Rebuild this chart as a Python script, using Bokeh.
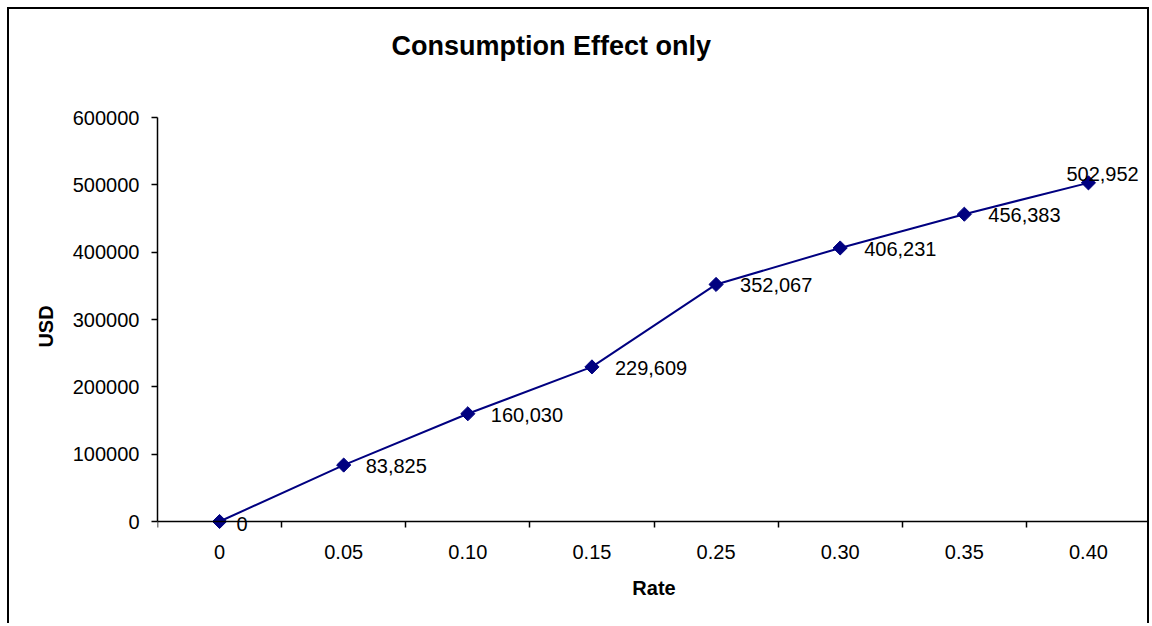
import math
from bokeh.plotting import figure
from bokeh.models import Range1d, FixedTicker, NumeralTickFormatter, Label, Title, LinearAxis
from bokeh.embed import file_html
from bokeh.resources import INLINE

# ---- data ----
rates = ["0", "0.05", "0.10", "0.15", "0.25", "0.30", "0.35", "0.40"]
usd = [0, 83825, 160030, 229609, 352067, 406231, 456383, 502952]
point_labels = ["0", "83,825", "160,030", "229,609", "352,067", "406,231", "456,383", "502,952"]
y_ticks = [0, 100000, 200000, 300000, 400000, 500000, 600000]
title_text = "Consumption Effect only"
x_title = "Rate"
y_title = "USD"

FONT = "Liberation Sans"
NAVY = "#000080"
n = len(rates)
xs = list(range(n))
y_max = y_ticks[-1]
y_pad = y_max * 14 / 404.0   # small room below the zero line for the "0" data label

p = figure(width=1142, height=616, output_backend="svg", toolbar_location=None,
           x_range=Range1d(-0.5, n - 0.5), y_range=Range1d(-y_pad, y_max),
           x_axis_type=None,
           min_border_left=148, min_border_right=1, min_border_top=108,
           min_border_bottom=90)
p.styles = {"margin-left": "7px", "margin-top": "7px",
            "border-top": "2px solid black", "border-left": "2px solid black",
            "border-right": "2px solid black"}
p.outline_line_color = None
p.xgrid.visible = False
p.ygrid.visible = False
p.background_fill_color = "white"
p.border_fill_color = "white"
p.title.visible = False

# title: spacer panel next to the frame, then the real title above it
p.add_layout(Title(text=" ", text_font=FONT, text_font_size="27px", standoff=25), "above")
p.add_layout(Title(text=title_text, text_font=FONT, text_font_size="27px",
                   text_font_style="bold", text_color="black",
                   align="left", offset=234, standoff=0), "above")

# x axis line + category separators, drawn at y = 0
xline = LinearAxis(fixed_location=0,
                   ticker=FixedTicker(ticks=xs, minor_ticks=[i - 0.5 for i in range(n + 1)]),
                   major_label_overrides={i: "" for i in xs},
                   major_tick_out=0, major_tick_in=0,
                   minor_tick_out=6, minor_tick_in=0,
                   minor_tick_line_width=1.5, minor_tick_line_color="black",
                   axis_line_width=1.5, axis_line_color="black")
p.add_layout(xline, "below")

# x category labels and axis title
xlab = LinearAxis(ticker=FixedTicker(ticks=xs),
                  major_label_overrides={i: r for i, r in zip(xs, rates)},
                  axis_line_color=None, major_tick_line_color=None,
                  minor_tick_line_color=None,
                  major_label_text_font=FONT, major_label_text_font_size="20px",
                  major_label_text_color="black", major_label_standoff=3,
                  axis_label=x_title, axis_label_text_font=FONT,
                  axis_label_text_font_size="20px", axis_label_text_font_style="bold",
                  axis_label_text_color="black", axis_label_standoff=15)
p.add_layout(xlab, "below")

# y axis
ya = p.yaxis[0]
ya.bounds = (0, y_max)
ya.ticker = FixedTicker(ticks=y_ticks)
ya.formatter = NumeralTickFormatter(format="0")
ya.major_tick_out = 6
ya.major_tick_in = 0
ya.major_tick_line_width = 1.5
ya.major_tick_line_color = "black"
ya.axis_line_width = 1.5
ya.axis_line_color = "black"
ya.major_label_text_font = FONT
ya.major_label_text_font_size = "20px"
ya.major_label_text_color = "black"
ya.major_label_standoff = 12
ya.axis_label = y_title
ya.axis_label_text_font = FONT
ya.axis_label_text_font_size = "20px"
ya.axis_label_text_font_style = "bold"
ya.axis_label_text_color = "black"
ya.axis_label_standoff = 13

# series
p.line(xs, usd, line_color=NAVY, line_width=2)
p.scatter(xs, usd, marker="square", angle=math.pi / 4, size=10,
          fill_color=NAVY, line_color=NAVY)

# data labels (placement offsets in screen px, y up)
x_offs = [17, 22, 23, 23, 24, 24, 24, -22]
y_offs = [-2, -1, -1, -1, -1, -1, -1, 9]
for xv, yv, t, xo, yo in zip(xs, usd, point_labels, x_offs, y_offs):
    p.add_layout(Label(x=xv, y=yv, text=t, x_offset=xo, y_offset=yo,
                       text_font=FONT, text_font_size="20px", text_color="black",
                       text_align="left", text_baseline="middle", level="overlay"))

open("out.html", "w").write(file_html(p, INLINE))
